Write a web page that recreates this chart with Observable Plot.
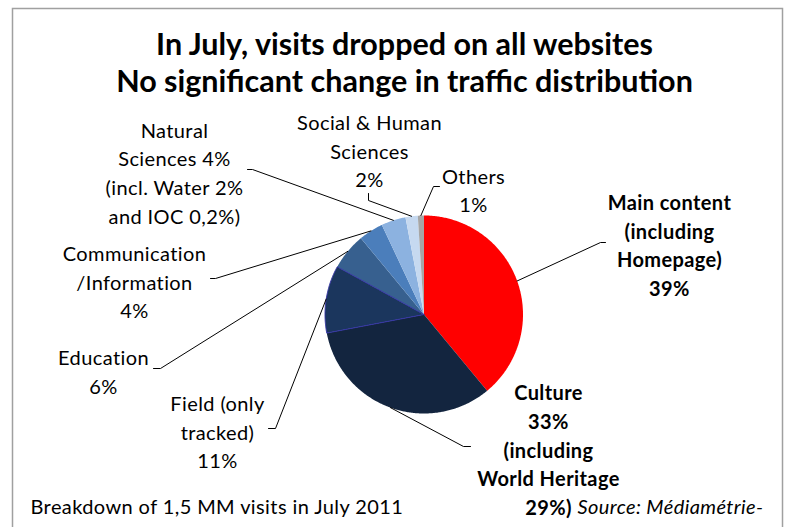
<!DOCTYPE html>
<html><head><meta charset="utf-8">
<script src="https://cdn.jsdelivr.net/npm/d3@7"></script>
<script src="https://cdn.jsdelivr.net/npm/@observablehq/plot@0.6"></script>
<style>body{margin:0;background:#fff}</style>
</head><body><div id="chart"></div>
<script>
// ---- data ----
const categories = ["Main content", "Culture", "Field", "Education", "Communication", "Natural Sciences", "Social & Human Sciences", "Others"];
const shares = [39, 33, 11, 6, 4, 4, 2, 1];
const labels = [
  "Main content\n(including\nHomepage)\n39%",
  "Culture\n33%\n(including\nWorld Heritage\n29%)",
  "Field (only\ntracked)\n11%",
  "Education\n6%",
  "Communication\n/Information\n4%",
  "Natural\nSciences 4%\n(incl. Water 2%\nand IOC 0,2%)",
  "Social & Human\nSciences\n2%",
  "Others\n1%"
];
const boldFlags = [true, true, false, false, false, false, false, false];
const colors = ["#ff0000", "#13253f", "#1b365d", "#37608f", "#4b7ebb", "#8cb2e0", "#c6d9f0", "#a6a6a6"];
const titleLines = ["In July, visits dropped on all websites", "No significant change in traffic distribution"];
const footnote = "Breakdown of 1,5 MM visits in July 2011";
const source = "Source: Médiamétrie-";

// ---- layout ----
const W = 788, H = 527, cx = 423.5, cy = 314, R = 99;
const labelPos = [[669, 243.5], [548, 448], [217, 430], [103, 370], [134, 280], [174, 171], [369, 149], [473, 188.5]];
const elbows = [
  [[605, 242], [600, 242]],
  [[470, 446], [463, 446]],
  [[268, 428], [275, 428]],
  [[153, 368], [160, 368]],
  [[210, 278], [215, 278]],
  [[247, 169], [252, 169]],
  [[368, 193], [368, 200]],
  [[439, 186], [433, 186]]
];

const arcs = d3.pie().sort(null)(shares);
const pt = (a, r) => ({x: cx + r * Math.sin(a), y: cy - r * Math.cos(a)});

const slicePts = [];
arcs.forEach((a, i) => {
  const key = categories[i];
  slicePts.push({key, ...pt(0, 0)});
  const n = Math.max(2, Math.ceil((a.endAngle - a.startAngle) / 0.01));
  for (let k = 0; k <= n; k++) {
    const t = a.startAngle + (a.endAngle - a.startAngle) * k / n;
    slicePts.push({key, ...pt(t, R)});
  }
  slicePts.push({key, ...pt(0, 0)});
});

const leaderPts = [];
arcs.forEach((a, i) => {
  const key = categories[i];
  elbows[i].forEach(([x, y]) => leaderPts.push({key, x, y}));
  leaderPts.push({key, ...pt((a.startAngle + a.endAngle) / 2, R)});
});

const labelData = labels.map((t, i) => ({text: t, bold: boldFlags[i], x: labelPos[i][0], y: labelPos[i][1]}));
const titleData = titleLines.map((t, i) => ({text: t, x: 404, y: [45, 82][i]}));

const font = "Lato, 'Open Sans', sans-serif";

const chart = Plot.plot({
  width: W, height: H,
  margin: 0,
  style: {fontFamily: font, background: "#fff"},
  x: {domain: [0, W], range: [0, W], axis: null},
  y: {domain: [0, H], range: [0, H], axis: null},
  color: {domain: categories, range: colors},
  marks: [
    Plot.frame({stroke: "#a0a0a0", strokeWidth: 1.5, insetLeft: 12, insetTop: 8, insetRight: 6, insetBottom: -10}),
    Plot.line(slicePts, {x: "x", y: "y", z: "key", fill: "key", stroke: "none", curve: "linear"}),
    Plot.line(slicePts.filter(d => d.key === "Field"), {x: "x", y: "y", z: "key", fill: "none", stroke: "#3535a5", strokeWidth: 1, curve: "linear"}),
    Plot.line(leaderPts, {x: "x", y: "y", z: "key", stroke: "#000", strokeWidth: 1, curve: "linear"}),
    Plot.text(labelData.filter(d => d.bold), {x: "x", y: "y", text: "text", fontSize: 20, fontWeight: "bold", lineHeight: 1.43, fill: "#000"}),
    Plot.text(labelData.filter(d => !d.bold), {x: "x", y: "y", text: "text", fontSize: 20, lineHeight: 1.43, fill: "#000"}),
    Plot.text(titleData, {x: "x", y: "y", text: "text", fontSize: 30.5, fontWeight: "bold", fill: "#000"}),
    Plot.text([footnote], {x: () => 30, y: () => 507, text: d => d, textAnchor: "start", fontSize: 20, fill: "#000"}),
    Plot.text([source], {x: () => 577, y: () => 507, text: d => d, textAnchor: "start", fontSize: 20, fontStyle: "italic", fill: "#000"})
  ]
});
d3.select(chart).selectAll("text")
  .filter(function() { return !titleLines.includes(this.textContent); })
  .style("letter-spacing", "0.4px");
document.getElementById("chart").appendChild(chart);
</script>
</body></html>
